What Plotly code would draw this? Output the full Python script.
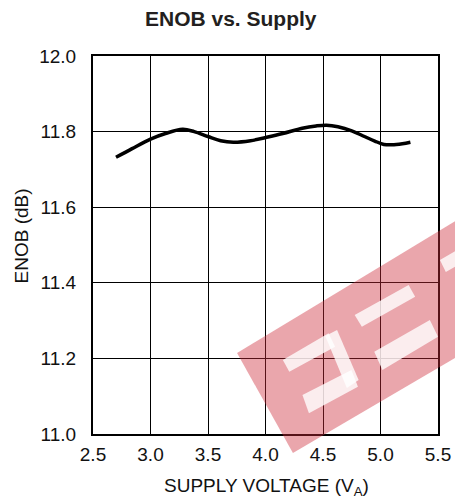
import plotly.graph_objects as go

# Data
supply_v = [2.70, 2.84, 3.00, 3.13, 3.28, 3.38, 3.50, 3.61, 3.72, 3.87, 4.01, 4.15,
            4.32, 4.44, 4.53, 4.63, 4.75, 4.86, 4.95, 5.03, 5.10, 5.19, 5.26]
enob = [11.732, 11.755, 11.780, 11.795, 11.806, 11.800, 11.787, 11.776, 11.772, 11.776,
        11.785, 11.795, 11.809, 11.815, 11.817, 11.813, 11.802, 11.787, 11.775, 11.766,
        11.765, 11.768, 11.772]
x_ticks = [2.5, 3.0, 3.5, 4.0, 4.5, 5.0, 5.5]
y_ticks = [11.0, 11.2, 11.4, 11.6, 11.8, 12.0]

OFF = 8  # page body margin
W, H = 463 - OFF, 504 - OFF
ML, MR, MT, MB = 93 - OFF, 18, 56 - OFF, 70
PW, PH = W - ML - MR, H - MT - MB
FONT = "Liberation Sans, Arial, sans-serif"


def to_paper(pts):
    # pts in window pixel coordinates
    return [((px - OFF - ML) / PW, (H - MB - (py - OFF)) / PH) for px, py in pts]


def path(pts):
    p = to_paper(pts)
    s = "M %.4f %.4f " % p[0]
    for q in p[1:]:
        s += "L %.4f %.4f " % q
    return s + "Z"


def pxp(px, py):
    return to_paper([(px, py)])[0]


fig = go.Figure()
fig.add_trace(go.Scatter(
    x=supply_v, y=enob, mode="lines",
    line=dict(color="black", width=3.5, shape="spline", smoothing=1.0),
    showlegend=False, hoverinfo="skip",
))

# watermark (decorative)
band = [(240, 353), (297, 453), (490, 342), (490, 205)]
whites = [
    [(360, 315), (415, 285), (421.7, 296.7), (367.3, 326.7)],
    [(380, 351.7), (436.7, 320), (445, 336.7), (388.3, 370)],
    [(286.7, 360), (333.3, 333.3), (340, 346.7), (293.3, 371.7)],
    [(330, 336), (342, 330), (364, 380), (352, 388)],
    [(306.7, 395), (356.7, 370), (363.3, 386.7), (313.3, 413.3)],
    [(447, 260), (475, 244), (481, 256), (453, 272)],
]
shapes = [dict(type="path", xref="paper", yref="paper", path=path(band),
               fillcolor="rgba(204,44,57,0.42)", line=dict(width=0), layer="above")]
for w in whites:
    shapes.append(dict(type="path", xref="paper", yref="paper", path=path(w),
                       fillcolor="rgba(255,255,255,0.8)", line=dict(width=0), layer="above"))

axis_common = dict(
    showgrid=True, gridcolor="black", gridwidth=1,
    showline=True, linecolor="black", linewidth=2, mirror=True,
    ticks="", zeroline=False,
    tickfont=dict(family=FONT, size=19, color="#111"),
)

tx, ty = pxp(234, 18)
ax_x, ax_y = pxp(270, 487)
yx, yy = pxp(20, 236)

fig.update_layout(
    width=W, height=H,
    margin=dict(l=ML, r=MR, t=MT, b=MB, pad=0),
    paper_bgcolor="white", plot_bgcolor="white",
    xaxis=dict(range=[2.5, 5.5], tickvals=x_ticks,
               ticktext=["%.1f" % v for v in x_ticks], ticklabelstandoff=2,
               **axis_common),
    yaxis=dict(range=[11.0, 12.0], tickvals=y_ticks,
               ticktext=["%.1f" % v for v in y_ticks], ticklabelstandoff=11,
               **axis_common),
    shapes=shapes,
    annotations=[
        dict(text="<b>ENOB vs. Supply</b>", xref="paper", yref="paper",
             x=tx, y=ty, xanchor="center", yanchor="middle",
             showarrow=False, font=dict(family=FONT, size=21, color="#231f20")),
        dict(text="SUPPLY VOLTAGE (V<sub>A</sub>)", xref="paper", yref="paper",
             x=ax_x, y=ax_y, xanchor="center", yanchor="middle",
             showarrow=False, font=dict(family=FONT, size=19, color="#111")),
        dict(text="ENOB (dB)", xref="paper", yref="paper", textangle=-90,
             x=yx, y=yy, xanchor="center", yanchor="middle",
             showarrow=False, font=dict(family=FONT, size=19, color="#111")),
    ],
)

fig.write_html("out.html")
